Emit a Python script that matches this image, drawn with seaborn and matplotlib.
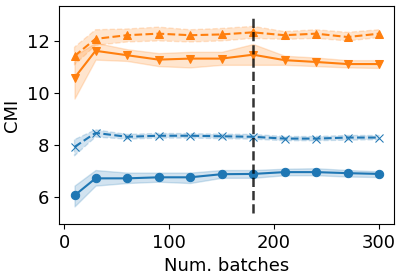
import pandas as pd
import matplotlib
matplotlib.use('Agg')
import matplotlib.pyplot as plt
import seaborn as sns

# === DATA ===
batches = [10, 30, 60, 90, 120, 150, 180, 210, 240, 270, 300]

blue_solid = [6.07, 6.73, 6.73, 6.77, 6.77, 6.89, 6.90, 6.97, 6.97, 6.93, 6.90]
blue_solid_lo = [5.65, 6.45, 6.55, 6.60, 6.55, 6.75, 6.75, 6.85, 6.85, 6.80, 6.78]
blue_solid_hi = [6.45, 7.05, 6.95, 6.95, 6.95, 7.05, 7.05, 7.10, 7.12, 7.05, 7.00]

blue_dash = [7.94, 8.48, 8.33, 8.37, 8.37, 8.35, 8.33, 8.26, 8.26, 8.30, 8.30]
blue_dash_lo = [7.60, 8.32, 8.24, 8.28, 8.28, 8.26, 8.24, 8.18, 8.18, 8.20, 8.22]
blue_dash_hi = [8.22, 8.60, 8.42, 8.46, 8.45, 8.43, 8.42, 8.34, 8.34, 8.38, 8.38]

orange_solid = [10.60, 11.64, 11.47, 11.30, 11.34, 11.34, 11.49, 11.28, 11.21, 11.13, 11.13]
orange_solid_lo = [9.80, 11.30, 11.25, 11.05, 11.00, 11.10, 11.10, 11.10, 11.05, 11.00, 10.98]
orange_solid_hi = [11.45, 11.95, 11.70, 11.55, 11.60, 11.60, 11.90, 11.45, 11.38, 11.28, 11.28]

orange_dash = [11.44, 12.10, 12.24, 12.30, 12.24, 12.27, 12.35, 12.24, 12.30, 12.17, 12.30]
orange_dash_lo = [11.10, 11.85, 11.98, 12.02, 11.98, 12.02, 12.12, 12.08, 12.12, 12.02, 12.15]
orange_dash_hi = [11.78, 12.45, 12.48, 12.55, 12.45, 12.50, 12.58, 12.38, 12.45, 12.35, 12.45]

vline_x = 180

series = [
    (blue_solid, blue_solid_lo, blue_solid_hi, '#1f77b4', '-', 'o'),
    (blue_dash, blue_dash_lo, blue_dash_hi, '#1f77b4', '--', 'x'),
    (orange_solid, orange_solid_lo, orange_solid_hi, '#ff7f0e', '-', 'v'),
    (orange_dash, orange_dash_lo, orange_dash_hi, '#ff7f0e', '--', '^'),
]

# === PLOT ===
fig = plt.figure(figsize=(4.02, 2.78), dpi=100)
ax = fig.add_axes([0.1475, 0.194, 0.8335, 0.784])

for vals, lo, hi, color, ls, mk in series:
    df = pd.DataFrame({'batch': batches, 'cmi': vals})
    sns.lineplot(data=df, x='batch', y='cmi', ax=ax, color=color,
                 linestyle=ls, marker=mk, markersize=6, linewidth=1.5,
                 markeredgecolor=color)
    ax.fill_between(batches, lo, hi, color=color, alpha=0.2,
                    linestyle=ls, linewidth=1)

ax.vlines(vline_x, 5.38, 12.92, colors='k', linestyles='--', linewidth=1.8, alpha=0.8)

ax.set_xlim(-4.5, 314.5)
ax.set_ylim(4.97, 13.36)
ax.set_xticks([0, 100, 200, 300])
ax.set_yticks([6, 8, 10, 12])
ax.tick_params(labelsize=13)
ax.set_xlabel('Num. batches', fontsize=13)
ax.set_ylabel('CMI', fontsize=13)

plt.savefig('out.png', dpi=100)
plt.close()
